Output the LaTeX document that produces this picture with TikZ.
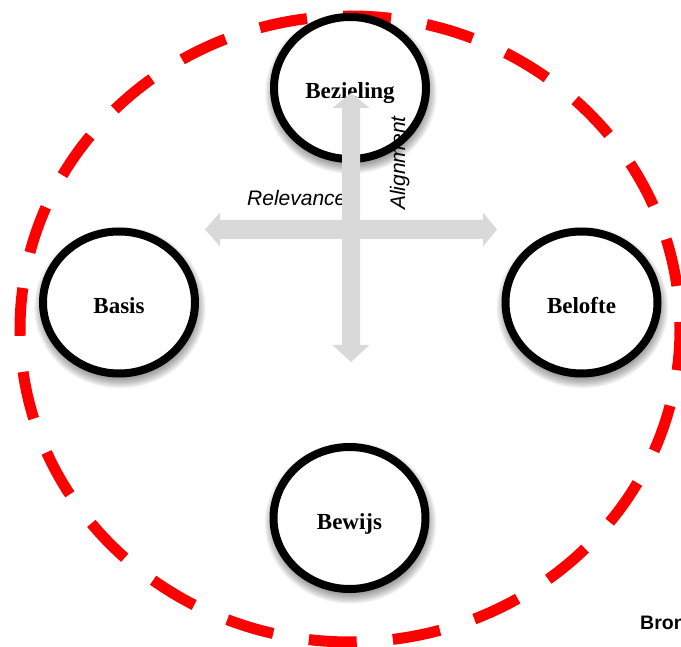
\documentclass[tikz,border=0pt]{standalone}
\usepackage{fontspec}
\setmainfont{Liberation Serif}
\setsansfont{Liberation Sans}
\usetikzlibrary{shapes.geometric}
\definecolor{ringred}{HTML}{FF0000}
\definecolor{arrowgray}{HTML}{D9D9D9}
\tikzset{
  pillar/.style={ellipse, draw=black, fill=white, line width=8pt,
    minimum width=152pt, minimum height=142pt, inner sep=2pt,
    text height=22pt, text depth=0pt,
    font=\bfseries\fontsize{23}{27}\selectfont},
  axislabel/.style={inner sep=0pt, font=\sffamily\itshape\fontsize{21}{25}\selectfont},
  boundary/.style={draw=ringred, line width=11pt,
    dash pattern=on 48pt off 36.18pt, dash phase=41pt},
  shade/.style={fill=black, opacity=0.055}
}
\begin{document}
\begin{tikzpicture}[x=1pt,y=1pt]
\useasboundingbox (0,0) rectangle (681,-647);
\begin{scope}
\clip (0,0) rectangle (681,-647);

% dashed red boundary
\coordinate (mid) at (350,-329);
\draw[boundary] (mid) ellipse [x radius=330, y radius=313];

% soft shadows under the four pillars
\foreach \cx/\cy in {350/-88, 119/-302.5, 581.5/-302.5, 349.5/-518}{
  \foreach \k in {0,...,9}{
    \fill[shade] (\cx+1,\cy-5) ellipse [x radius=74+1.3*\k, y radius=69+1.3*\k];
  }
}

% the four pillars
\node[pillar] (bez) at (350,-88) {Bezieling};
\node[pillar] (bas) at (119,-302.5) {Basis};
\node[pillar] (bel) at (581.5,-302.5) {Belofte};
\node[pillar] (bew) at (349.5,-518) {Bewijs};

% axis labels
\node[axislabel, anchor=base west] (rel) at (247,-206) {Relevance};
\node[axislabel, anchor=base west, rotate=90] (ali) at (405,-210) {Alignment};

% horizontal double block arrow
\coordinate (hl) at (205,-229.5);
\coordinate (hr) at (497,-229.5);
\fill[arrowgray] (hl) -- ++(15,17) -- ++(0,-7.5) -- (483,-220) -- ++(0,7.5)
  -- (hr) -- (483,-246.5) -- ++(0,7.5) -- (220,-239) -- ++(0,-7.5) -- cycle;

% vertical double block arrow
\coordinate (vt) at (351,-93);
\coordinate (vb) at (351,-362);
\fill[arrowgray] (vt) -- (369.5,-108) -- (360,-108) -- (360,-345) -- (369.5,-345)
  -- (vb) -- (332.5,-345) -- (342,-345) -- (342,-108) -- (332.5,-108) -- cycle;

% source note
\node[inner sep=0pt, anchor=base west, font=\sffamily\bfseries\fontsize{19.5}{23}\selectfont]
  (src) at (640,-629) {Bron};
\end{scope}
\end{tikzpicture}
\end{document}
